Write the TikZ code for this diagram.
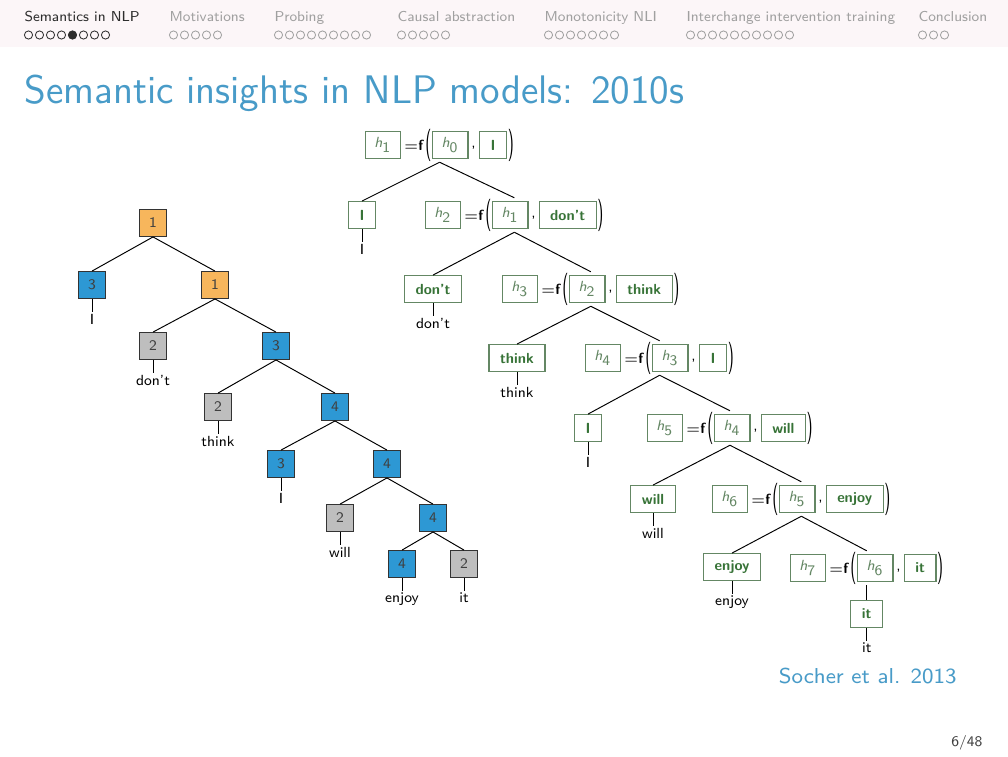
\documentclass[tikz,border=0pt]{standalone}
\usepackage{fontspec}
\usepackage{graphicx}
\usetikzlibrary{positioning}
\usetikzlibrary{fit}

\definecolor{headbg}{RGB}{252,246,248}
\definecolor{titleblue}{RGB}{72,155,200}
\definecolor{navgrey}{RGB}{160,160,160}
\definecolor{navdark}{RGB}{45,45,45}
\definecolor{boxorange}{RGB}{247,182,92}
\definecolor{boxblue}{RGB}{45,152,212}
\definecolor{boxgrey}{RGB}{190,190,190}
\definecolor{rnnline}{RGB}{100,135,100}
\definecolor{rnntext}{RGB}{55,115,55}

\newcommand{\treefont}{\sffamily\fontsize{5.3}{6.4}\selectfont}
\newcommand{\hvar}[1]{\textsl{h}$_{\textsf{#1}}$}

\tikzset{
  sent/.style={font=\treefont, draw=black!80, minimum size=3.4mm, inner sep=0pt, text=black!75},
  posbox/.style={sent, fill=boxorange},
  negbox/.style={sent, fill=boxblue},
  neubox/.style={sent, fill=boxgrey},
  word/.style={font=\treefont, inner sep=0.5pt},
  edge/.style={line width=0.35pt},
  rnnbox/.style={font=\treefont, draw=rnnline, text=rnnline, minimum height=3.4mm, minimum width=3.5mm, inner xsep=1.15mm, inner ysep=0pt},
  wordbox/.style={rnnbox, inner xsep=1.4mm, text=rnntext, font=\treefont\bfseries},
  glue/.style={font=\treefont, inner sep=0pt},
}

\begin{document}
\begin{tikzpicture}[x=0.127mm, y=-0.127mm]
    \useasboundingbox (0,0) rectangle (1008,756);
    \fill[white] (0,0) rectangle (1008,756);

    % navigation bar
    \fill[headbg] (0,0) rectangle (1008,47);
    \foreach \nm/\xx/\cnt [count=\i] in {Semantics in NLP/24/8, Motivations/169/5, Probing/274/9,
        Causal abstraction/397/5, Monotonicity NLI/544/7, Interchange intervention training/686/10,
        Conclusion/918/3}{
      \ifnum\i=1 \def\navcol{navdark}\else \def\navcol{navgrey}\fi
      \node[anchor=base west, inner sep=0pt, text=\navcol, font=\sffamily\fontsize{5.2}{6}\selectfont]
        (sec\i) at (\xx,21) {\nm};
      \foreach \d in {1,...,\cnt}{
        \draw[\navcol, line width=0.3pt] (\xx+11*\d-6.5,35) circle[radius=0.52mm];
      }
    }
    \fill[navdark] (24+11*5-6.5,35) circle[radius=0.55mm];

    % title
    \node[anchor=base west, inner sep=0pt, text=titleblue, font=\sffamily\fontsize{14.4}{17}\selectfont]
      (title) at (24,103) {Semantic insights in NLP models: 2010s};

    % sentiment tree
    \node[posbox] (v1) at (153,223) {1};
    \node[negbox] (v2) at (92,285) {3};
    \node[posbox] (v3) at (215,285) {1};
    \node[neubox] (v4) at (153,346) {2};
    \node[negbox] (v5) at (276,346) {3};
    \node[neubox] (v6) at (218,407) {2};
    \node[negbox] (v7) at (335,407) {4};
    \node[negbox] (v8) at (281,464) {3};
    \node[negbox] (v9) at (387,464) {4};
    \node[neubox] (v10) at (340,518) {2};
    \node[negbox] (v11) at (433,518) {4};
    \node[negbox] (v12) at (402,564) {4};
    \node[neubox] (v13) at (464,564) {2};
    \foreach \a/\b in {v1/v2, v1/v3, v3/v4, v3/v5, v5/v6, v5/v7, v7/v8, v7/v9,
        v9/v10, v9/v11, v11/v12, v11/v13}{
      \draw[edge] (\a.south) -- (\b.north);
    }
    \foreach \v/\t in {v2/I, v4/don't, v6/think, v8/I, v10/will, v12/enjoy, v13/it}{
      \node[word, below=1.7mm of \v] (t\v) {\t};
      \draw[edge] (\v.south) -- (t\v.north);
    }

    % recursive network
    \foreach \k/\j/\wrd/\xx/\yy in {1/0/I/383/145, 2/1/don't/443/215, 3/2/think/520/289, 4/3/I/603/358,
        5/4/will/665/428, 6/5/enjoy/730/499, 7/6/it/808/568}{
      \node[rnnbox] (h\k) at (\xx,\yy) {\hvar{\k}};
      \node[glue, right=0.3mm of h\k] (eq\k) {$=$\textbf{f}};
      \node[glue, right=0.05mm of eq\k] (lp\k) {\scalebox{1}[2.2]{(}};
      \node[rnnbox, right=0mm of lp\k] (in\k) {\hvar{\j}};
      \node[glue, anchor=base west] (cm\k) at ([xshift=0.3mm]in\k.base east) {,};
      \node[wordbox, anchor=west] (wb\k) at ([xshift=0.3mm]cm\k.east |- in\k.east) {\wrd};
      \node[glue, right=0mm of wb\k] (rp\k) {\scalebox{1}[2.2]{)}};
      \node[fit=(h\k)(in\k)(rp\k), inner sep=0pt] (c\k) {};
    }
    \foreach \k/\wrd/\xx/\yy in {1/I/362/215, 2/don't/433/289, 3/think/517/358, 4/I/588/428,
        5/will/653/499, 6/enjoy/732/567}{
      \node[wordbox] (lf\k) at (\xx,\yy) {\wrd};
      \node[word, below=1.7mm of lf\k] (lt\k) {\wrd};
      \draw[edge] (lf\k.south) -- (lt\k.north);
      \draw[edge] (c\k.south) -- (lf\k.north);
    }
    \foreach \k [evaluate=\k as \n using int(\k+1)] in {1,...,6}{
      \draw[edge] (c\k.south) -- (c\n.north);
    }
    \node[wordbox] (lf7) at (c7.south |- 0,614) {it};
    \node[word, below=1.7mm of lf7] (lt7) {it};
    \draw[edge] (c7.south) -- (lf7.north);
    \draw[edge] (lf7.south) -- (lt7.north);

    \node[anchor=base east, inner sep=0pt, text=titleblue, font=\sffamily\fontsize{7.8}{9}\selectfont]
      (cite) at (957,683) {Socher et al. 2013};
    \node[anchor=base east, inner sep=0pt, text=black!75, font=\sffamily\fontsize{5.3}{6}\selectfont]
      (page) at (983,746) {6/48};
\end{tikzpicture}
\end{document}
